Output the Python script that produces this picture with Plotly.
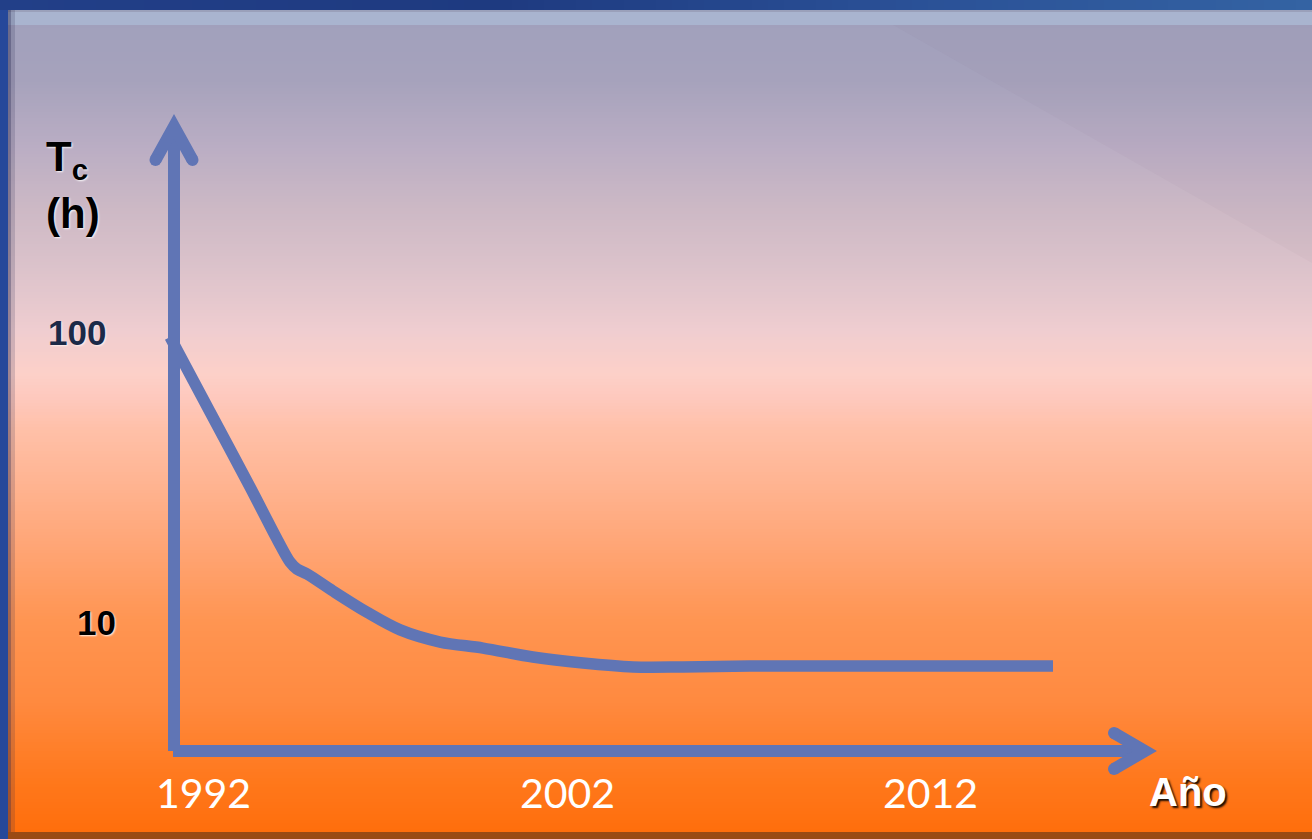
import plotly.graph_objects as go
import numpy as np

# ---------------- data ----------------
years = [1991.08, 1992.18, 1993.28, 1994.05, 1994.38, 1994.57, 1994.85, 1995.56, 1996.50,
         1997.41, 1998.51, 1999.69, 2001.06, 2002.44, 2003.82, 2005.19, 2007.03, 2015.37]
tc_hours = [96.1, 52.98, 29.2, 19.03, 16.1, 15.23, 14.64, 12.79, 10.8,
            9.39, 8.53, 8.13, 7.57, 7.22, 7.0, 7.0, 7.05, 7.05]
x_tick_years = [1992, 2002, 2012]
x_tick_text = ["1992", "2002", "2012"]
y_tick_vals = [100, 10]
y_tick_text = ["100", "10"]

W, H = 1312, 839
LINE = "#6075b5"


def X(p):
    return p / W


def Y(p):
    return 1 - p / H


def hex2rgb(h):
    h = h.lstrip("#")
    return [int(h[i:i + 2], 16) for i in (0, 2, 4)]


def interp(stops, p):
    for (p0, c0), (p1, c1) in zip(stops[:-1], stops[1:]):
        if p0 <= p <= p1:
            t = (p - p0) / (p1 - p0)
            a, b = hex2rgb(c0), hex2rgb(c1)
            r = [round(a[i] + (b[i] - a[i]) * t) for i in range(3)]
            return f"rgb({r[0]},{r[1]},{r[2]})"
    return stops[-1][1] if p > stops[-1][0] else stops[0][1]


# ---------------- background gradient ----------------
grad_stops = [(10, "#a0a0bc"), (80, "#a6a2bc"), (150, "#bbaec4"), (210, "#cdb9c5"),
              (270, "#dcc3cb"), (330, "#efcdd0"), (375, "#fdd0c8"), (400, "#fec8bc"),
              (430, "#ffc0a8"), (500, "#ffb08a"), (560, "#ffa26f"), (620, "#ff9552"),
              (700, "#ff8a40"), (780, "#ff781c"), (832, "#ff6e0c")]
frame_stops = [(0, "#223f88"), (500, "#1e3a80"), (900, "#2a5096"), (1312, "#3463a3")]

shapes = []
step = 3
for py in range(10, 832, step):
    shapes.append(dict(type="rect", xref="paper", yref="paper", layer="below",
                       x0=X(8), x1=1, y0=Y(min(py + step + 1, 832)), y1=Y(py),
                       fillcolor=interp(grad_stops, py + step / 2), line=dict(width=0)))

# top frame, lighter toward the right
fstep = 16
for px in range(0, W, fstep):
    shapes.append(dict(type="rect", xref="paper", yref="paper", layer="below",
                       x0=X(px), x1=X(min(px + fstep + 1, W)), y0=Y(10), y1=1,
                       fillcolor=interp(frame_stops, px + fstep / 2), line=dict(width=0)))
# top bevel strip
shapes.append(dict(type="rect", xref="paper", yref="paper", layer="below",
                   x0=X(8), x1=1, y0=Y(25), y1=Y(10),
                   fillcolor="#a9b4cf", line=dict(width=0)))
shapes.append(dict(type="rect", xref="paper", yref="paper", layer="below",
                   x0=X(8), x1=1, y0=Y(12), y1=Y(10),
                   fillcolor="#9aa0ba", line=dict(width=0)))
# left bevel shadow
shapes.append(dict(type="rect", xref="paper", yref="paper", layer="below",
                   x0=X(8), x1=X(11), y0=Y(832), y1=Y(10),
                   fillcolor="rgba(40,40,80,0.45)", line=dict(width=0)))
shapes.append(dict(type="rect", xref="paper", yref="paper", layer="below",
                   x0=X(11), x1=X(15), y0=Y(832), y1=Y(10),
                   fillcolor="rgba(40,40,80,0.18)", line=dict(width=0)))
# bottom brown edge
shapes.append(dict(type="rect", xref="paper", yref="paper", layer="below",
                   x0=X(8), x1=1, y0=0, y1=Y(832),
                   fillcolor="#9a4a14", line=dict(width=0)))
# subtle diagonal sheen top-right
shapes.append(dict(type="path", xref="paper", yref="paper", layer="below",
                   path=f"M {X(893)},{Y(25)} L {X(1312)},{Y(25)} L {X(1312)},{Y(263)} Z",
                   fillcolor="rgba(120,80,120,0.035)", line=dict(width=0)))


# ---------------- axis arrows ----------------
def path(pts):
    return "M " + " L ".join(f"{X(a)},{Y(b)}" for a, b in pts)


for pts in ([(174, 751), (174, 128)],
            [(155.5, 160), (174, 126.5), (192.5, 160)],
            [(173, 751), (1145, 751)],
            [(1114, 733), (1145, 751), (1114, 769)]):
    shapes.append(dict(type="path", xref="paper", yref="paper", layer="above",
                       path=path(pts), line=dict(color=LINE, width=12)))
for cx, cy in [(155.5, 160), (192.5, 160), (1114, 733), (1114, 769)]:
    shapes.append(dict(type="circle", xref="paper", yref="paper", layer="above",
                       x0=X(cx - 6), x1=X(cx + 6), y0=Y(cy + 6), y1=Y(cy - 6),
                       fillcolor=LINE, line=dict(width=0)))

# ---------------- figure ----------------
fig = go.Figure()
fig.add_trace(go.Scatter(x=years, y=tc_hours, mode="lines",
                         line=dict(color=LINE, width=11.5, shape="spline", smoothing=0.9),
                         hoverinfo="skip", showlegend=False))

x_range = [1992 - 203.5 / 36.35, 1992 + (W - 203.5) / 36.35]
y_range = [2 - (H - 332) / 290, 2 + 332 / 290]

BOLD = "Liberation Sans, Arial, sans-serif"
annotations = []
for yr, txt in zip(x_tick_years, x_tick_text):
    annotations.append(dict(x=yr, xref="x", y=Y(792), yref="paper", text=txt,
                            showarrow=False, xanchor="center", yanchor="middle",
                            font=dict(family="Lato, Open Sans, sans-serif", size=41, color="white")))
y_label_style = {
    "100": dict(x=X(77), color="#1c2a48", shadow="1px 1px 2px rgba(255,255,255,0.7)"),
    "10": dict(x=X(96), color="#000000", shadow="1px 1px 2px rgba(255,255,255,0.9)"),
}
for v, txt in zip(y_tick_vals, y_tick_text):
    st = y_label_style[txt]
    annotations.append(dict(x=st["x"], xref="paper", y=np.log10(v), yref="y", text=f"<b>{txt}</b>",
                            showarrow=False, xanchor="center", yanchor="middle",
                            font=dict(family=BOLD, size=35, color=st["color"], shadow=st["shadow"])))
annotations.append(dict(x=X(44), xref="paper", y=Y(160), yref="paper",
                        text="<b>T<sub>c</sub></b>", showarrow=False,
                        xanchor="left", yanchor="middle",
                        font=dict(family=BOLD, size=42, color="black",
                                  shadow="1px 1px 2px rgba(255,255,255,0.9)")))
annotations.append(dict(x=X(44), xref="paper", y=Y(213), yref="paper",
                        text="<b>(h)</b>", showarrow=False,
                        xanchor="left", yanchor="middle",
                        font=dict(family=BOLD, size=42, color="black",
                                  shadow="1px 1px 2px rgba(255,255,255,0.9)")))
annotations.append(dict(x=X(1188), xref="paper", y=Y(792), yref="paper",
                        text="<b>Año</b>", showarrow=False,
                        xanchor="center", yanchor="middle",
                        font=dict(family=BOLD, size=40, color="white",
                                  shadow="2px 2px 2px rgba(0,0,0,0.9)")))

fig.update_layout(
    width=W, height=H,
    margin=dict(l=0, r=0, t=0, b=0),
    paper_bgcolor="#26489a",
    plot_bgcolor="rgba(0,0,0,0)",
    xaxis=dict(range=x_range, visible=False, domain=[0, 1], fixedrange=True),
    yaxis=dict(type="log", range=y_range, visible=False, domain=[0, 1], fixedrange=True),
    shapes=shapes,
    annotations=annotations,
    showlegend=False,
)

fig.write_html("out.html", config={"displayModeBar": False})
